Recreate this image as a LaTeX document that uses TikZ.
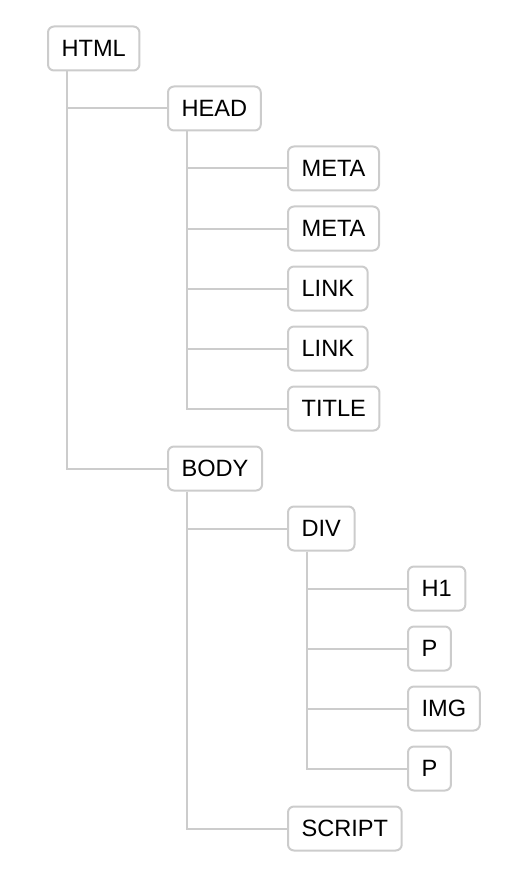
\documentclass[tikz,border=0pt]{standalone}
\usepackage{fontspec}
\setmainfont{Liberation Sans}
\usetikzlibrary{calc}
\definecolor{linegray}{RGB}{204,204,204}
\tikzset{
  tag/.style={draw=linegray, line width=1pt, rounded corners=3pt, fill=white,
    inner xsep=6.8pt, minimum height=22pt, anchor=west, text=black,
    font=\fontsize{11.8}{13}\selectfont},
  link/.style={draw=linegray, line width=1pt}
}
\begin{document}
\begin{tikzpicture}[x=0.5pt,y=-0.5pt]
		%%%%% START %%%%%
		\useasboundingbox (0,0) rectangle (520,882);
		
		\node[tag] (html) at (47, 48.5) {HTML};
		\node[tag] (head) at (167, 108.5) {HEAD};
		\node[tag] (meta1) at (287, 168.5) {META};
		\node[tag] (meta2) at (287, 228.5) {META};
		\node[tag] (link1) at (287, 288.5) {LINK};
		\node[tag] (link2) at (287, 348.5) {LINK};
		\node[tag] (title) at (287, 408.5) {TITLE};
		\node[tag] (body) at (167, 468.5) {BODY};
		\node[tag] (div) at (287, 528.5) {DIV};
		\node[tag] (h1) at (407, 588.5) {H1};
		\node[tag] (p1) at (407, 648.5) {P};
		\node[tag] (img) at (407, 708.5) {IMG};
		\node[tag] (p2) at (407, 768.5) {P};
		\node[tag] (script) at (287, 828.5) {SCRIPT};
		
		\foreach \kid in {head, body}
			\draw[link] ($(html.south west)+(10pt,0)$) |- (\kid.west);
		\foreach \kid in {meta1, meta2, link1, link2, title}
			\draw[link] ($(head.south west)+(10pt,0)$) |- (\kid.west);
		\foreach \kid in {div, script}
			\draw[link] ($(body.south west)+(10pt,0)$) |- (\kid.west);
		\foreach \kid in {h1, p1, img, p2}
			\draw[link] ($(div.south west)+(10pt,0)$) |- (\kid.west);
		%%%%% END %%%%%
\end{tikzpicture}
\end{document}
